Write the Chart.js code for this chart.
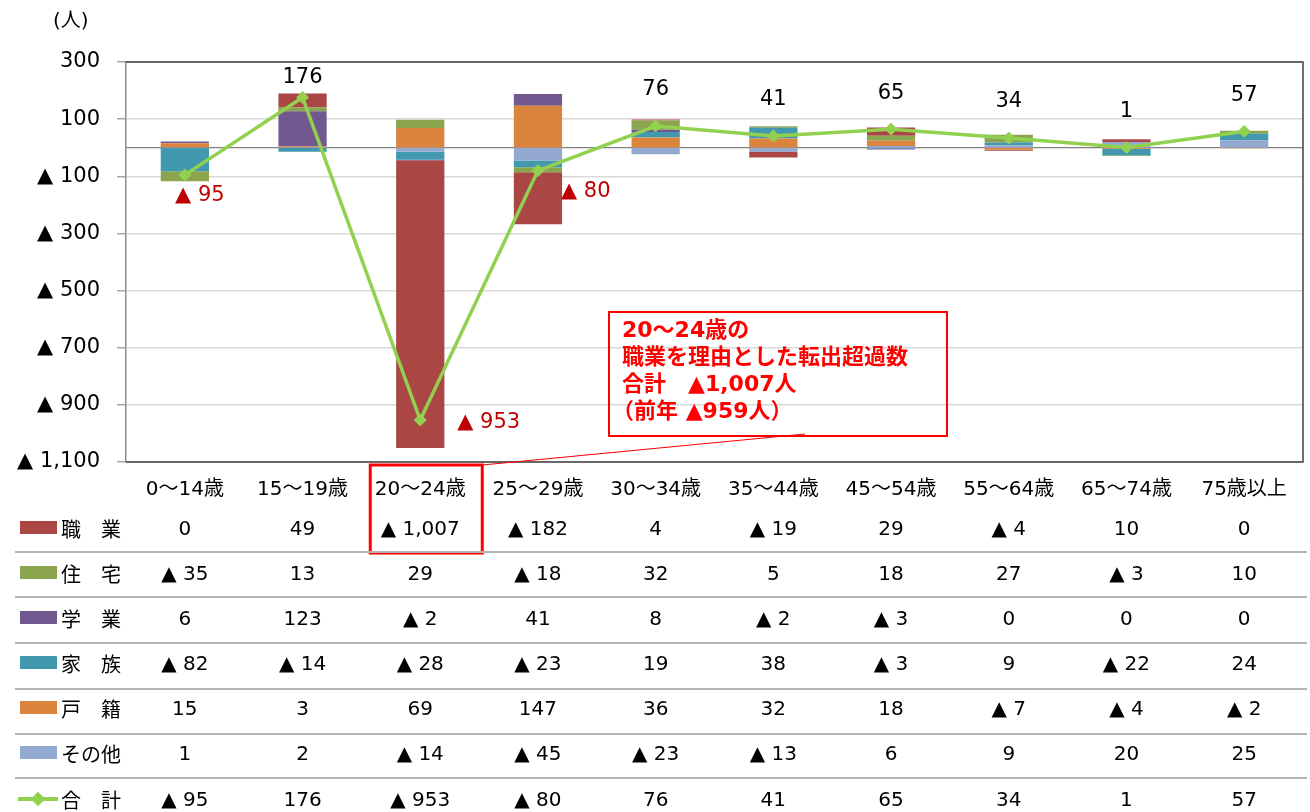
<!DOCTYPE html>
<html lang="ja">
<head>
<meta charset="utf-8">
<title>年齢別・理由別 転出超過数</title>
<script src="https://cdn.jsdelivr.net/npm/chart.js@4.4.1/dist/chart.umd.min.js"></script>
<style>
  body { margin: 0; background: #fff; font-family: "DejaVu Sans", "Noto Sans CJK JP", sans-serif; }
  #wrap { position: relative; width: 1310px; height: 812px; overflow: hidden; }
  #wrap canvas { position: absolute; left: 0; top: 0; }
  #unit { position: absolute; left: 53px; top: 4px; font-size: 20px; }
  .cell { position: absolute; transform: translate(-50%, -50%); font-size: 20px; white-space: nowrap; color: #000; }
  .rowname { position: absolute; left: 61px; transform: translateY(-50%); font-size: 20px; white-space: nowrap; }
  .swatch { position: absolute; left: 20px; width: 37px; height: 13px; }
  .sep { position: absolute; left: 15px; width: 1292px; height: 0; border-top: 2px solid #b4b4b4; }
  #callout {
    position: absolute; left: 608px; top: 311px; width: 336px; height: 119px;
    border: 2px solid #ff0000; color: #ff0000; font-weight: bold;
    font-size: 22px; line-height: 27px; padding: 3px 0 0 0; box-sizing: content-box;
  }
  #callout div { padding-left: 12px; white-space: nowrap; }
</style>
</head>
<body>
<div id="wrap">
  <canvas id="chart" width="1310" height="812"></canvas>
  <div id="unit">(人)</div>
  <div id="callout">
    <div>20〜24歳の</div>
    <div>職業を理由とした転出超過数</div>
    <div>合計　▲1,007人</div>
    <div style="padding-left:2px">（前年 ▲959人）</div>
  </div>
</div>
<script>
// 年齢区分
const ageLabels = ["0〜14歳", "15〜19歳", "20〜24歳", "25〜29歳", "30〜34歳", "35〜44歳", "45〜54歳", "55〜64歳", "65〜74歳", "75歳以上"];

// 理由別の転出入超過数（マイナスは転出超過）
const shokugyo = [0, 49, -1007, -182, 4, -19, 29, -4, 10, 0];
const jutaku = [-35, 13, 29, -18, 32, 5, 18, 27, -3, 10];
const gakugyo = [6, 123, -2, 41, 8, -2, -3, 0, 0, 0];
const kazoku = [-82, -14, -28, -23, 19, 38, -3, 9, -22, 24];
const koseki = [15, 3, 69, 147, 36, 32, 18, -7, -4, -2];
const sonota = [1, 2, -14, -45, -23, -13, 6, 9, 20, 25];
const gokei = [-95, 176, -953, -80, 76, 41, 65, 34, 1, 57];

// 目盛
const yMin = -1100;
const yMax = 300;
const yStep = 200;

const colors = {
  shokugyo: "#AA4643",
  jutaku: "#8BA54E",
  gakugyo: "#71588F",
  kazoku: "#4198AF",
  koseki: "#DB843D",
  sonota: "#93A9CF",
  gokei: "#92D050",
};

function fmt(v) {
  const s = Math.abs(v).toLocaleString("en-US");
  return v < 0 ? "▲ " + s : s;
}

// 表の行（上から順）
const tableRows = [
  { name: "職　業", data: shokugyo, color: colors.shokugyo },
  { name: "住　宅", data: jutaku, color: colors.jutaku },
  { name: "学　業", data: gakugyo, color: colors.gakugyo },
  { name: "家　族", data: kazoku, color: colors.kazoku },
  { name: "戸　籍", data: koseki, color: colors.koseki },
  { name: "その他", data: sonota, color: colors.sonota },
  { name: "合　計", data: gokei, color: colors.gokei, line: true },
];

// 積み上げは「その他」が一番下
const stackOrder = [5, 4, 3, 2, 1, 0];
const barDatasets = stackOrder.map((i) => ({
  type: "bar",
  label: tableRows[i].name,
  data: tableRows[i].data,
  backgroundColor: tableRows[i].color,
  order: 1,
  categoryPercentage: 1,
  barPercentage: 0.41,
}));

const lineDataset = {
  type: "line",
  label: "合計",
  data: gokei,
  borderColor: colors.gokei,
  backgroundColor: colors.gokei,
  borderWidth: 3.5,
  pointStyle: "rectRot",
  pointRadius: 6,
  pointBorderWidth: 1,
  tension: 0,
  order: 0,
};

const baseFont = "'DejaVu Sans', 'Noto Sans CJK JP', sans-serif";

// ゼロ線・枠線・ラベル・強調枠
const extras = {
  id: "extras",
  beforeDatasetsDraw(chart) {
    const { ctx, chartArea, scales } = chart;
    const y0 = scales.y.getPixelForValue(0);
    ctx.save();
    ctx.strokeStyle = "#808080";
    ctx.lineWidth = 1.2;
    ctx.beginPath();
    ctx.moveTo(chartArea.left, y0);
    ctx.lineTo(chartArea.right, y0);
    ctx.stroke();
    ctx.restore();
  },
  afterDatasetsDraw(chart) {
    const { ctx, chartArea } = chart;
    const meta = chart.getDatasetMeta(chart.data.datasets.length - 1);
    const negPlace = {
      0: { dx: 15, dy: 21, align: "center" },
      2: { dx: 37, dy: 3, align: "left" },
      3: { dx: 23, dy: 21, align: "left" },
    };
    ctx.save();
    ctx.font = "21px " + baseFont;
    ctx.textBaseline = "middle";
    meta.data.forEach((pt, i) => {
      const v = gokei[i];
      if (v >= 0) {
        ctx.fillStyle = "#000";
        ctx.textAlign = "center";
        ctx.fillText(fmt(v), pt.x, Math.max(pt.y - 36, chartArea.top + 16));
      } else {
        const p = negPlace[i] || { dx: 20, dy: 20, align: "left" };
        ctx.fillStyle = "#C00000";
        ctx.textAlign = p.align;
        ctx.fillText(fmt(v), pt.x + p.dx, pt.y + p.dy);
      }
    });

    // 枠線
    ctx.strokeStyle = "#404040";
    ctx.lineWidth = 1.5;
    ctx.beginPath();
    ctx.moveTo(chartArea.left, chartArea.top);
    ctx.lineTo(chartArea.right, chartArea.top);
    ctx.lineTo(chartArea.right, chartArea.bottom);
    ctx.lineTo(chartArea.left, chartArea.bottom);
    ctx.stroke();

    // 20〜24歳 職業のセルの強調枠と引き出し線
    const cx = chart.scales.x.getPixelForValue(2);
    ctx.strokeStyle = "#ff0000";
    ctx.lineWidth = 3;
    ctx.strokeRect(cx - 50, 465, 112, 88);
    ctx.lineWidth = 1.2;
    ctx.beginPath();
    ctx.moveTo(cx + 62, 465);
    ctx.lineTo(805, 434);
    ctx.stroke();
    ctx.restore();
  },
};

const chart = new Chart(document.getElementById("chart"), {
  data: {
    labels: ageLabels,
    datasets: [...barDatasets, lineDataset],
  },
  options: {
    responsive: false,
    animation: false,
    layout: { padding: { top: 62, right: 3, left: 0, bottom: 0 } },
    plugins: {
      legend: { display: false },
      tooltip: { enabled: false },
    },
    scales: {
      x: {
        stacked: true,
        grid: { display: false },
        border: { display: false },
        ticks: {
          color: "#000",
          padding: 8,
          font: { size: 20, family: baseFont },
        },
        afterFit(scale) {
          scale.height = 350;
        },
      },
      y: {
        stacked: true,
        min: yMin,
        max: yMax,
        ticks: {
          stepSize: yStep,
          color: "#000",
          padding: 17,
          font: { size: 21, family: baseFont },
          callback: (v) => fmt(v),
        },
        grid: {
          color: "#d9d9d9",
          lineWidth: 1.5,
          tickLength: 9,
          tickColor: "#a6a6a6",
        },
        border: { color: "#8c8c8c", width: 1.5 },
        afterFit(scale) {
          scale.width = 126;
        },
      },
    },
  },
  plugins: [extras],
});

// データ表
const wrap = document.getElementById("wrap");
const rowY = [528, 573, 618, 663, 708, 753, 799];
const sepY = [552, 597, 643, 689, 734, 778];
const xs = chart.scales.x;

tableRows.forEach((row, r) => {
  const y = rowY[r];
  if (row.line) {
    const ln = document.createElement("div");
    ln.style.cssText = `position:absolute;left:18px;top:${y - 2}px;width:40px;height:4px;background:${row.color};`;
    wrap.appendChild(ln);
    const dm = document.createElement("div");
    dm.style.cssText = `position:absolute;left:${38 - 6}px;top:${y - 6}px;width:12px;height:12px;background:${row.color};transform:rotate(45deg) scale(0.85);`;
    wrap.appendChild(dm);
  } else {
    const sw = document.createElement("div");
    sw.className = "swatch";
    sw.style.top = y - 7 + "px";
    sw.style.background = row.color;
    wrap.appendChild(sw);
  }
  const nm = document.createElement("div");
  nm.className = "rowname";
  nm.style.top = y + "px";
  nm.textContent = row.name;
  wrap.appendChild(nm);

  row.data.forEach((v, i) => {
    const c = document.createElement("div");
    c.className = "cell";
    c.style.left = xs.getPixelForValue(i) + "px";
    c.style.top = y + "px";
    c.textContent = fmt(v);
    wrap.appendChild(c);
  });
});

sepY.forEach((y) => {
  const s = document.createElement("div");
  s.className = "sep";
  s.style.top = y - 1 + "px";
  wrap.appendChild(s);
});
</script>
</body>
</html>
